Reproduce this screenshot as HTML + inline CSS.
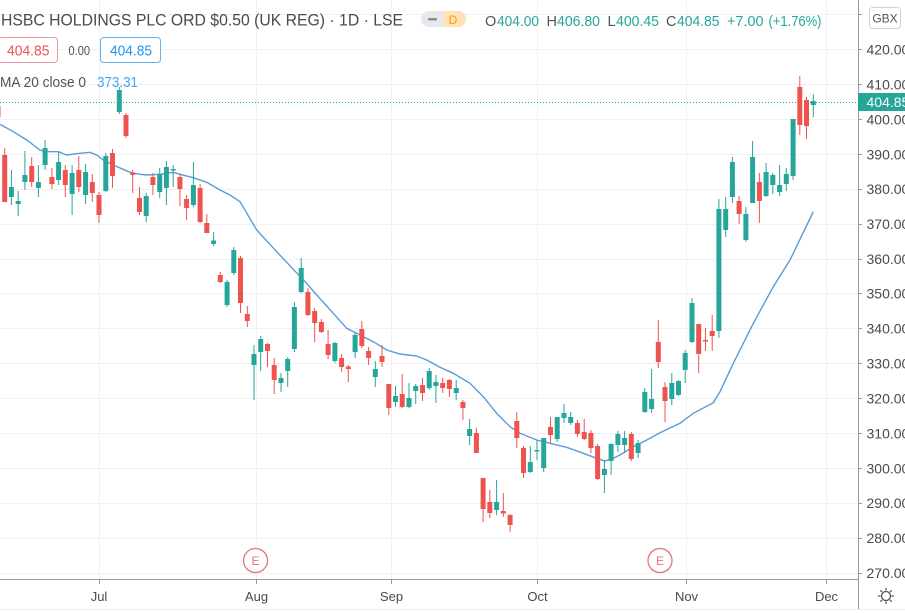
<!DOCTYPE html>
<html><head><meta charset="utf-8"><style>
html,body{margin:0;padding:0;background:#fff;}
svg{display:block;font-family:"Liberation Sans",Arial,sans-serif;}
</style></head><body>
<svg width="905" height="613" viewBox="0 0 905 613" xmlns="http://www.w3.org/2000/svg">
<rect x="0" y="0" width="905" height="613" fill="#fff"/>
<!-- grid -->
<g stroke="#eef1f6" stroke-width="1">
<path d="M0 14.5H858M0 49.5H858M0 84.5H858M0 119.5H858M0 154.5H858M0 189.5H858M0 224.5H858M0 259.5H858M0 293.5H858M0 328.5H858M0 363.5H858M0 398.5H858M0 433.5H858M0 468.5H858M0 503.5H858M0 538.5H858M0 573.5H858"/>
<path d="M99.5 0V579M256.5 0V579M391.5 0V579M537.5 0V579M686.5 0V579M826.5 0V579"/>
</g>
<!-- last price dotted line -->
<path d="M0 102.5H858" stroke="#26a69a" stroke-width="1" stroke-dasharray="1 2"/>
<!-- MA line -->
<path d="M0 124.3 L13.3 131.7 L26.7 140 L40 150 L45 151.7 L58.3 151.7 L66.7 155 L80 153.3 L90 152.3 L96.7 155 L103.3 160 L113.3 165 L130 172.3 L140 174.3 L146.7 175 L160 174.3 L173.3 172.3 L180 174.3 L193.3 177.7 L206.7 182.3 L220 190 L230 195 L240 201.7 L256.7 230 L276.7 251.7 L293.3 269.3 L306.7 283.3 L316.7 295 L333.3 313.3 L346.7 328.3 L360 335 L373.3 341.7 L386.7 350 L400 354 L416.7 356 L426.7 360 L440 367.3 L453.3 373.3 L470 383.3 L483.3 396.7 L496.7 413.3 L510 426.7 L520 433.3 L536.7 440 L550 443.3 L566.7 447.3 L583.3 453.3 L596.7 458.3 L605 461 L613.3 458.3 L620 455 L633.3 446.7 L646.7 440 L660 432.7 L680 423.3 L693.3 413.3 L713.3 402.7 L720 391.7 L733.3 363.3 L753.3 323.3 L773.3 286.7 L790 260 L813.3 211.7" fill="none" stroke="#5b9bd5" stroke-width="1.4"/>
<!-- red wicks -->
<path stroke="#ef5350" stroke-width="1" fill="none" d="M-2 103V120M4.7 148V202M31.7 157V187M51.9 168V189M65.3 165V197M78.8 156V192M92.3 174V202M99 192V223M112.5 149V188M126 113V138M132.7 170V193M139.5 187V215M152.9 173V195M179.9 174V206M186.6 195V220M200.1 184V223M206.8 214V233M220.3 272V283M240.5 256V313M247.3 306V327M267.5 343V367M274.2 358V394M307.9 288V316M314.7 308V342M321.4 319V333M328.1 330V359M341.6 354V372M348.3 365V382M361.8 321V348M368.6 347V365M382 345V367M388.8 384V415M402.2 374V408M422.5 378V401M442.7 378V393M449.4 379V397M462.9 400V420M476.4 428V453M483.1 478V522M489.8 490V518M503.3 493V517M510.1 514V532M516.8 412V448M523.5 446V478M550.5 417V443M577.4 420V437M584.2 419V440M590.9 430V453M597.6 444V480M631.3 432V461M658.3 320V368M665 382V422M698.7 324V373M705.5 328V351M712.2 315V351M739.1 196V224M759.4 173V223M799.8 76V135M806.5 97V139"/>
<!-- red bodies -->
<path fill="#ef5350" d="M-4.5 106h5V117h-5zM2.2 155h5V202h-5zM29.2 166h5V182h-5zM49.4 177h5V184h-5zM62.8 170h5V185h-5zM76.3 170h5V187h-5zM89.8 182h5V193h-5zM96.5 195h5V215h-5zM110 153h5V176h-5zM123.5 115h5V136h-5zM130.2 173h5V175h-5zM137 198h5V212h-5zM150.4 177h5V185h-5zM177.4 177h5V189h-5zM184.1 199h5V208h-5zM197.6 188h5V222h-5zM204.3 223h5V233h-5zM217.8 275h5V282h-5zM238 258h5V303h-5zM244.8 314h5V321h-5zM265 344h5V351h-5zM271.7 365h5V380h-5zM305.4 292h5V315h-5zM312.2 311h5V323h-5zM318.9 322h5V332h-5zM325.6 344h5V355h-5zM339.1 358h5V367h-5zM345.8 366.5h5V369h-5zM359.3 329h5V346h-5zM366.1 351h5V358h-5zM379.5 356h5V362h-5zM386.3 384h5V408h-5zM399.7 394h5V407h-5zM420 385h5V393h-5zM440.2 383h5V388h-5zM446.9 380h5V389h-5zM460.4 402h5V408h-5zM473.9 433h5V453h-5zM480.6 478h5V509h-5zM487.3 502h5V513h-5zM500.8 511h5V513.5h-5zM507.6 515h5V525h-5zM514.3 421h5V438h-5zM521 448h5V473h-5zM548 427h5V435h-5zM574.9 423h5V434h-5zM581.7 432h5V439h-5zM588.4 433h5V448h-5zM595.1 446h5V479h-5zM628.8 434h5V459h-5zM655.8 342h5V362h-5zM662.5 387h5V401h-5zM696.2 324h5V354h-5zM703 340h5V341.5h-5zM709.7 331h5V336h-5zM736.6 201h5V214h-5zM756.9 182h5V201h-5zM797.3 87h5V125h-5zM804 100h5V126h-5z"/>
<!-- green wicks -->
<path stroke="#26a69a" stroke-width="1" fill="none" d="M11.4 170V205M18.2 191V216M24.9 151V190M38.4 165V197M45.1 140V170M58.6 152V185M72.1 165V215M85.6 164V204M105.8 153V192M119.3 87V114M146.2 193V222M159.7 168V198M166.4 161V205M173.2 165V187M193.4 162V207M213.6 232V246M227.1 280V307M233.8 247V275M254 345V400M260.7 336V371M281 373V392M287.7 357V387M294.4 302V352M301.2 258V293M334.9 342V363M355.1 333V358M375.3 361V387M395.5 386V407M409 383V408M415.7 384V404M429.2 368V390M435.9 375V403M456.2 380V400M469.6 419V445M496.6 480V515M530.3 446V473M537 440V460M543.7 438V472M557.2 417V442M564 404V423M570.7 412V425M604.4 460V493M611.1 443V475M617.9 431V452M624.6 431V453M638.1 440V458M644.8 388V413M651.6 369V413M671.8 373V405M678.5 380V396M685.2 350V383M692 298V343M718.9 199V338M725.7 197V237M732.4 157V203M745.9 207V242M752.6 141V203M766.1 163V197M772.8 173V194M779.6 165V196M786.3 168V191M793.1 119V180M813.3 94V117"/>
<!-- green bodies -->
<path fill="#26a69a" d="M8.9 187h5V197h-5zM15.7 201h5V204h-5zM22.4 175h5V182h-5zM35.9 182h5V188h-5zM42.6 148h5V165h-5zM56.1 162h5V180h-5zM69.6 173h5V194h-5zM83.1 172h5V195h-5zM103.3 156h5V191h-5zM116.8 90h5V112h-5zM143.7 196h5V216h-5zM157.2 174h5V192h-5zM163.9 167h5V188h-5zM170.7 169h5V170.5h-5zM190.9 185h5V205h-5zM211.1 240.5h5V244h-5zM224.6 282h5V305h-5zM231.3 250h5V273h-5zM251.5 354h5V365h-5zM258.2 339h5V352h-5zM278.5 378h5V383h-5zM285.2 359h5V371h-5zM291.9 307h5V349h-5zM298.7 268h5V292h-5zM332.4 343h5V361h-5zM352.6 335h5V352h-5zM372.8 369h5V377h-5zM393 396h5V402h-5zM406.5 398h5V407h-5zM413.2 386h5V391h-5zM426.7 371h5V388h-5zM433.4 382h5V386h-5zM453.7 388h5V393h-5zM467.1 429h5V436h-5zM494.1 502h5V510h-5zM527.8 462h5V472h-5zM534.5 450h5V451.5h-5zM541.2 438h5V468h-5zM554.7 417h5V439h-5zM561.5 413h5V418h-5zM568.2 417h5V423h-5zM601.9 469h5V475h-5zM608.6 444h5V461h-5zM615.4 434h5V445h-5zM622.1 438h5V445h-5zM635.6 443h5V453h-5zM642.3 392h5V412h-5zM649.1 399h5V409h-5zM669.3 383h5V399h-5zM676 381h5V395h-5zM682.7 353h5V370h-5zM689.5 303h5V342h-5zM716.4 209h5V331h-5zM723.2 209h5V230h-5zM729.9 162h5V197h-5zM743.4 214h5V240h-5zM750.1 157h5V203h-5zM763.6 172h5V196h-5zM770.3 175h5V185h-5zM777.1 185h5V192h-5zM783.8 174h5V184h-5zM790.6 119h5V176h-5zM810.8 101h5V105h-5z"/>

<!-- Earnings markers -->
<g fill="#fff" stroke="#e57373" stroke-width="1.3">
<circle cx="255.5" cy="560.5" r="12"/>
<circle cx="660" cy="560.5" r="12"/>
</g>
<g fill="#e57373" font-size="12" text-anchor="middle">
<text x="255.5" y="565">E</text>
<text x="660" y="565">E</text>
</g>

<!-- header -->
<text x="1" y="25.5" font-size="16.5" fill="#4a4a50" textLength="402" lengthAdjust="spacingAndGlyphs">HSBC HOLDINGS PLC ORD $0.50 (UK REG) · 1D · LSE</text>
<rect x="421" y="11" width="45" height="16" rx="8" fill="#e6e8ee"/>
<path d="M443 11h15a8 8 0 0 1 0 16h-15z" fill="#ffe3b8"/>
<rect x="428" y="18" width="9" height="2.5" rx="1" fill="#8a8d96"/>
<text x="453" y="24" font-size="12" fill="#ff9800" text-anchor="middle">D</text>

<g font-size="14.5">
<text x="485" y="26" fill="#50535e">O</text>
<text x="497" y="26" fill="#26a69a" textLength="42" lengthAdjust="spacingAndGlyphs">404.00</text>
<text x="546.5" y="26" fill="#50535e">H</text>
<text x="557" y="26" fill="#26a69a" textLength="43" lengthAdjust="spacingAndGlyphs">406.80</text>
<text x="607.5" y="26" fill="#50535e">L</text>
<text x="616" y="26" fill="#26a69a" textLength="43" lengthAdjust="spacingAndGlyphs">400.45</text>
<text x="666" y="26" fill="#50535e">C</text>
<text x="677" y="26" fill="#26a69a" textLength="42.5" lengthAdjust="spacingAndGlyphs">404.85</text>
<text x="727" y="26" fill="#26a69a" textLength="36.5" lengthAdjust="spacingAndGlyphs">+7.00</text>
<text x="768.5" y="26" fill="#26a69a" textLength="53" lengthAdjust="spacingAndGlyphs">(+1.76%)</text>
</g>

<rect x="-1.5" y="37.5" width="59" height="25" rx="3" fill="#fff" stroke="#ef9a9a" stroke-width="1"/>
<text x="7" y="55.5" font-size="14.5" fill="#ef5350" textLength="42.5" lengthAdjust="spacingAndGlyphs">404.85</text>
<text x="68.5" y="55" font-size="13" fill="#50535e" textLength="21.5" lengthAdjust="spacingAndGlyphs">0.00</text>
<rect x="100.5" y="37.5" width="60" height="25" rx="3" fill="#fff" stroke="#64b5f6" stroke-width="1"/>
<text x="110" y="55.5" font-size="14.5" fill="#2196f3" textLength="42" lengthAdjust="spacingAndGlyphs">404.85</text>

<text x="0" y="87" font-size="14.5" fill="#50535e" textLength="86" lengthAdjust="spacingAndGlyphs">MA 20 close 0</text>
<text x="97" y="87" font-size="14.5" fill="#42a5f5" textLength="41" lengthAdjust="spacingAndGlyphs">373.31</text>

<!-- right axis -->
<rect x="858" y="0" width="47" height="613" fill="#fff"/>
<path d="M858.5 0V609" stroke="#9598a1" stroke-width="1"/>
<g stroke="#9598a1" stroke-width="1">
<path d="M858 14.5h4M858 49.5h4M858 84.5h4M858 119.5h4M858 154.5h4M858 189.5h4M858 224.5h4M858 259.5h4M858 293.5h4M858 328.5h4M858 363.5h4M858 398.5h4M858 433.5h4M858 468.5h4M858 503.5h4M858 538.5h4M858 573.5h4"/>
</g>
<g font-size="14" fill="#4a4a50">
<text x="866.5" y="54.5">420.00</text>
<text x="866.5" y="89.5">410.00</text>
<text x="866.5" y="124.5">400.00</text>
<text x="866.5" y="159.5">390.00</text>
<text x="866.5" y="194">380.00</text>
<text x="866.5" y="229">370.00</text>
<text x="866.5" y="264">360.00</text>
<text x="866.5" y="298.5">350.00</text>
<text x="866.5" y="333.5">340.00</text>
<text x="866.5" y="368.5">330.00</text>
<text x="866.5" y="403.5">320.00</text>
<text x="866.5" y="438.5">310.00</text>
<text x="866.5" y="473.5">300.00</text>
<text x="866.5" y="508">290.00</text>
<text x="866.5" y="543">280.00</text>
<text x="866.5" y="578">270.00</text>
</g>
<rect x="858" y="93" width="47" height="18" fill="#26a69a"/>
<text x="866.5" y="107" font-size="14" fill="#fff">404.85</text>
<rect x="869.5" y="7.5" width="31" height="21" rx="3" fill="#fff" stroke="#d1d4dc"/>
<text x="885" y="22.5" font-size="12" fill="#50535e" text-anchor="middle">GBX</text>

<!-- bottom axis -->
<rect x="0" y="580" width="858" height="33" fill="#fff"/>
<path d="M0 579.5H858" stroke="#9598a1" stroke-width="1"/>
<g stroke="#9598a1" stroke-width="1">
<path d="M99.5 580v4M256.5 580v4M391.5 580v4M537.5 580v4M686.5 580v4M826.5 580v4"/>
</g>
<g font-size="13" fill="#4a4a50" text-anchor="middle">
<text x="99" y="601">Jul</text>
<text x="256.5" y="601">Aug</text>
<text x="391.5" y="601">Sep</text>
<text x="537.5" y="601">Oct</text>
<text x="686.5" y="601">Nov</text>
<text x="826.5" y="601">Dec</text>
</g>
<path d="M0 609.5H905" stroke="#eceef2" stroke-width="1"/>
<!-- gear -->
<g transform="translate(886,596)" stroke="#50535e" stroke-width="1.3" fill="none">
<circle r="4.5"/>
<path d="M0 -8V-5.5M0 5.5V8M-8 0H-5.5M5.5 0H8M-5.7 -5.7L-3.9 -3.9M3.9 3.9L5.7 5.7M-5.7 5.7L-3.9 3.9M3.9 -3.9L5.7 -5.7"/>
</g>
</svg>
</body></html>
